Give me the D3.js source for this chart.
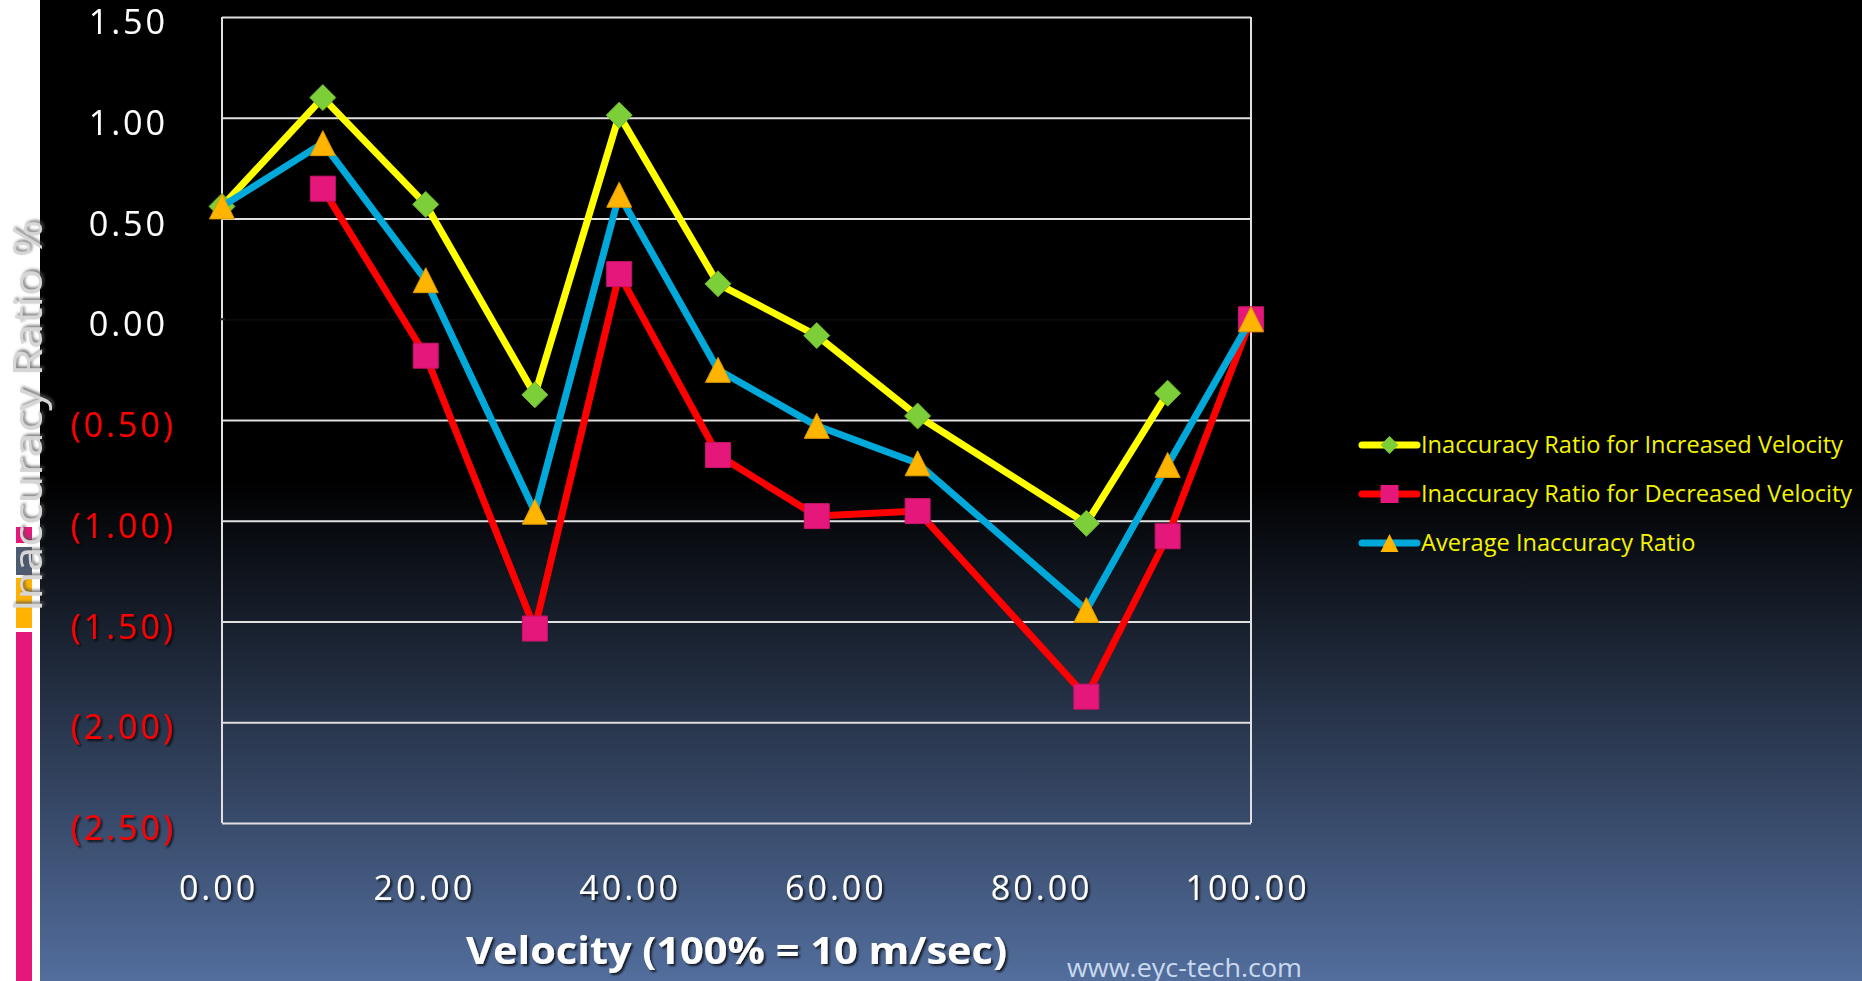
<!DOCTYPE html>
<html>
<head>
<meta charset="utf-8">
<script src="https://cdn.jsdelivr.net/npm/d3@7"></script>
<style>
  html, body { margin: 0; padding: 0; background: #fff; overflow: hidden; }
  svg { display: block; }
  text { font-family: "Open Sans", "DejaVu Sans", sans-serif; }
</style>
</head>
<body>
<svg id="chart" width="1862" height="981"></svg>
<script>
// Velocity (% of 10 m/sec) at which each measurement was taken
const velocity = [0, 9.8, 19.8, 30.4, 38.6, 48.2, 57.8, 67.6, 84.0, 91.9, 100];
// Inaccuracy ratio (%) when velocity was increased / decreased, and their average
const increased = [0.56, 1.10, 0.57, -0.375, 1.013, 0.176, -0.081, -0.480, -1.013, -0.367, null];
const decreased = [null, 0.648, -0.181, -1.535, 0.224, -0.674, -0.977, -0.952, -1.873, -1.077, 0.00];
const average   = [0.56, 0.874, 0.194, -0.955, 0.618, -0.251, -0.529, -0.715, -1.443, -0.723, 0.00];

const seriesNames = [
  "Inaccuracy Ratio for Increased Velocity",
  "Inaccuracy Ratio for Decreased Velocity",
  "Average Inaccuracy Ratio"
];
const yTickValues = [1.5, 1.0, 0.5, 0.0, -0.5, -1.0, -1.5, -2.0, -2.5];
const xTickValues = [0, 20, 40, 60, 80, 100];
const xTitle = "Velocity (100% = 10 m/sec)";
const yTitle = "Inaccuracy Ratio %";
const siteText = "www.eyc-tech.com";

const W = 1862, H = 981;
const plot = { left: 222, right: 1251, top: 17, bottom: 823 };

const svg = d3.select("#chart");
const defs = svg.append("defs");

// slide background: white strip on the left, dark gradient panel on the right
const grad = defs.append("linearGradient").attr("id", "bg").attr("x1", 0).attr("y1", 0).attr("x2", 0).attr("y2", 1);
grad.append("stop").attr("offset", 0).attr("stop-color", "#000000");
grad.append("stop").attr("offset", 0.49).attr("stop-color", "#000000");
grad.append("stop").attr("offset", 1).attr("stop-color", "#536e9d");

const shadow = defs.append("filter").attr("id", "shadow").attr("x", "-10%").attr("y", "-20%").attr("width", "130%").attr("height", "150%");
shadow.append("feDropShadow").attr("dx", 2).attr("dy", 2).attr("stdDeviation", 1.2)
  .attr("flood-color", "#000").attr("flood-opacity", 0.75);
const shadowGrey = defs.append("filter").attr("id", "shadowGrey").attr("x", "-10%").attr("y", "-20%").attr("width", "130%").attr("height", "150%");
shadowGrey.append("feDropShadow").attr("dx", 2).attr("dy", 2).attr("stdDeviation", 1.5)
  .attr("flood-color", "#555").attr("flood-opacity", 0.8);

svg.append("rect").attr("x", 0).attr("y", 0).attr("width", W).attr("height", H).attr("fill", "#ffffff");
svg.append("rect").attr("x", 40).attr("y", 0).attr("width", W - 40).attr("height", H).attr("fill", "url(#bg)");

// decorative colour bars along the left edge
const bars = [
  { y0: 527, y1: 543, c: "#e6177a" },
  { y0: 547, y1: 575, c: "#4c5a72" },
  { y0: 578, y1: 628, c: "#ffb300" },
  { y0: 632, y1: 981, c: "#e6177a" }
];
svg.append("g").selectAll("rect").data(bars).join("rect")
  .attr("x", 16).attr("width", 16)
  .attr("y", d => d.y0).attr("height", d => d.y1 - d.y0)
  .attr("fill", d => d.c);

const x = d3.scaleLinear().domain([0, 100]).range([plot.left, plot.right]);
const y = d3.scaleLinear().domain([-2.5, 1.5]).range([plot.bottom, plot.top]);

// horizontal gridlines (zero line is the category axis, drawn dark)
svg.append("g")
  .attr("transform", `translate(${plot.left},0)`)
  .call(d3.axisLeft(y).tickValues(yTickValues).tickSize(-(plot.right - plot.left)).tickFormat(""))
  .call(g => g.select(".domain").remove())
  .call(g => g.selectAll(".tick line")
    .attr("stroke", d => d === 0 ? "#0a0a0a" : "#e0e0e0")
    .attr("stroke-width", 2));

// plot frame (left and right edges)
svg.append("line").attr("x1", plot.left).attr("x2", plot.left).attr("y1", plot.top).attr("y2", plot.bottom)
  .attr("stroke", "#e0e0e0").attr("stroke-width", 2);
svg.append("line").attr("x1", plot.right).attr("x2", plot.right).attr("y1", plot.top).attr("y2", plot.bottom)
  .attr("stroke", "#e0e0e0").attr("stroke-width", 2);
svg.append("line").attr("x1", plot.left - 2).attr("x2", plot.left + 3).attr("y1", y(0)).attr("y2", y(0))
  .attr("stroke", "#222").attr("stroke-width", 2);

// y axis labels: accounting format, negatives in red parentheses
const fmt = d3.format(".2f");
const yAxis = svg.append("g")
  .attr("transform", `translate(${plot.left},0)`)
  .call(d3.axisLeft(y).tickValues(yTickValues).tickSize(0).tickPadding(0)
    .tickFormat(d => d < 0 ? `(${fmt(-d)})` : fmt(d)));
yAxis.select(".domain").remove();
yAxis.selectAll(".tick text")
  .attr("x", d => d < 0 ? -46 : -54)
  .attr("dy", "0.49em")
  .attr("fill", d => d < 0 ? "#ff0000" : "#ffffff")
  .attr("font-size", 34)
  .attr("letter-spacing", 3)
  .attr("text-anchor", "end")
  .attr("filter", "url(#shadow)");

// x axis labels
const xAxis = svg.append("g")
  .attr("transform", `translate(0,${plot.bottom})`)
  .call(d3.axisBottom(x).tickValues(xTickValues).tickSize(0).tickPadding(0).tickFormat(fmt));
xAxis.select(".domain").remove();
xAxis.selectAll(".tick text")
  .attr("y", 65)
  .attr("dy", "0.35em")
  .attr("dx", -4)
  .attr("fill", "#ffffff")
  .attr("font-size", 34)
  .attr("letter-spacing", 3)
  .attr("filter", "url(#shadow)");

// axis titles
svg.append("text")
  .attr("x", (plot.left + plot.right) / 2).attr("y", 964)
  .attr("text-anchor", "middle")
  .attr("font-size", 38).attr("font-weight", 700)
  .attr("fill", "#ffffff")
  .attr("textLength", 541).attr("lengthAdjust", "spacingAndGlyphs")
  .attr("filter", "url(#shadow)")
  .text(xTitle);

svg.append("text")
  .attr("transform", "translate(42,416) rotate(-90)")
  .attr("text-anchor", "middle")
  .attr("font-size", 40)
  .attr("fill", "#d6d6d6")
  .attr("textLength", 392).attr("lengthAdjust", "spacingAndGlyphs")
  .attr("filter", "url(#shadowGrey)")
  .text(yTitle);

// series
const series = [
  { name: seriesNames[0], values: increased, line: "#ffff00", marker: "#7ccf38", shape: "diamond" },
  { name: seriesNames[1], values: decreased, line: "#ff0000", marker: "#e6177a", shape: "square" },
  { name: seriesNames[2], values: average,   line: "#00a9d9", marker: "#ffb400", shape: "triangle" }
];

function markerPath(shape, s) {
  const h = s / 2;
  if (shape === "diamond") return `M0,${-h}L${h},0L0,${h}L${-h},0Z`;
  if (shape === "square") return `M${-h},${-h}H${h}V${h}H${-h}Z`;
  return `M0,${-h}L${h},${h}L${-h},${h}Z`;
}

const line = d3.line()
  .defined(d => d.v !== null)
  .x(d => x(d.x)).y(d => y(d.v));

series.forEach(s => {
  const pts = velocity.map((v, i) => ({ x: v, v: s.values[i] }));
  const g = svg.append("g");
  g.append("path").datum(pts)
    .attr("d", line)
    .attr("fill", "none")
    .attr("stroke", s.line)
    .attr("stroke-width", 7)
    .attr("stroke-linejoin", "round")
    .attr("stroke-linecap", "round");
  const size = s.shape === "diamond" ? 26 : 25;
  g.selectAll("path.m").data(pts.filter(d => d.v !== null)).join("path")
    .attr("class", "m")
    .attr("transform", d => `translate(${x(d.x)},${y(d.v)})`)
    .attr("d", markerPath(s.shape, size))
    .attr("fill", s.marker)
    .attr("stroke", d3.color(s.marker).darker(0.4))
    .attr("stroke-width", 1);
});

// legend
const legend = svg.append("g").attr("transform", "translate(1362,445)");
series.forEach((s, i) => {
  const row = legend.append("g").attr("transform", `translate(0,${i * 49})`);
  row.append("line").attr("x1", 0).attr("x2", 55).attr("y1", 0).attr("y2", 0)
    .attr("stroke", s.line).attr("stroke-width", 7).attr("stroke-linecap", "round");
  row.append("path").attr("transform", "translate(27.5,0)")
    .attr("d", markerPath(s.shape, 18))
    .attr("fill", s.marker);
  row.append("text").attr("x", 59).attr("y", 0).attr("dy", "0.35em")
    .attr("font-size", 23.6).attr("fill", "#f4f400")
    .text(s.name);
});

// site address
svg.append("text")
  .attr("x", 1067).attr("y", 977)
  .attr("font-size", 25)
  .attr("fill", "#c9d9ef")
  .attr("textLength", 235).attr("lengthAdjust", "spacingAndGlyphs")
  .text(siteText);
</script>
</body>
</html>
